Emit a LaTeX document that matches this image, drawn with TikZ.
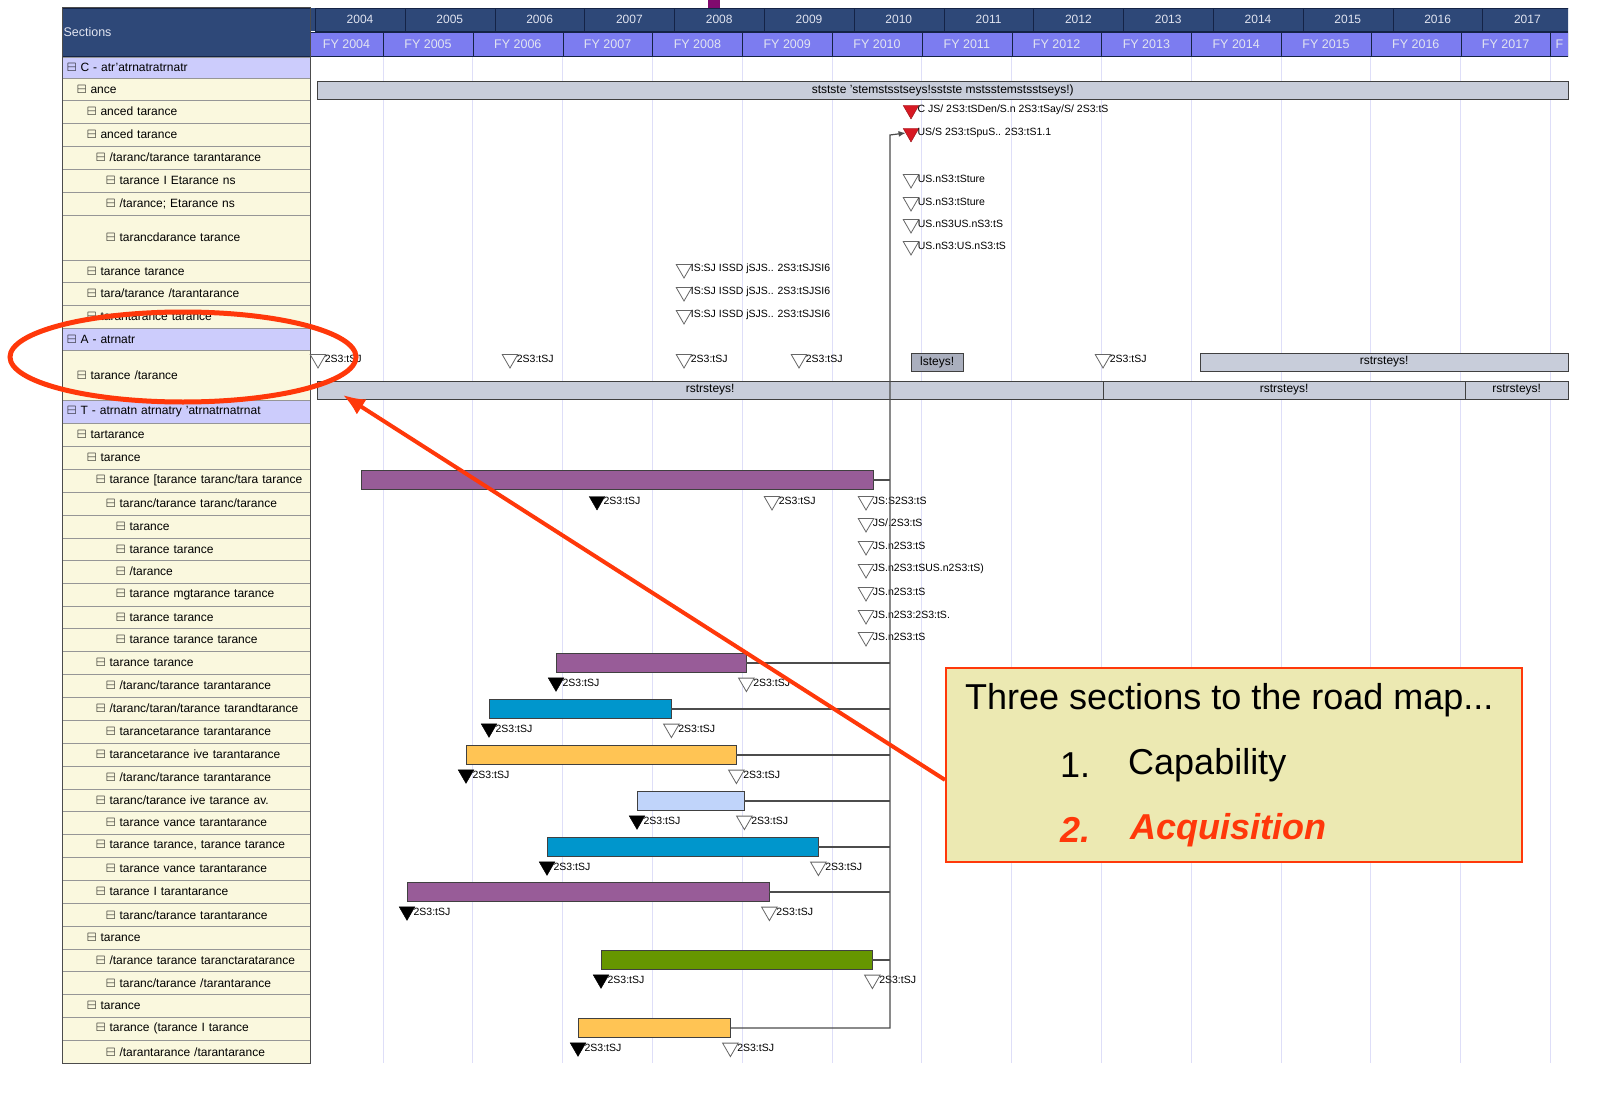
\documentclass[tikz,border=0pt]{standalone}
\usepackage{fontspec}
\setmainfont{Liberation Sans}
\usepackage{amssymb}
\usetikzlibrary{shapes.geometric, arrows.meta, positioning}

\definecolor{hdrdark}{RGB}{46,72,120}
\definecolor{hdrline}{RGB}{20,35,70}
\definecolor{hdrtxt}{RGB}{225,228,240}
\definecolor{fybg}{RGB}{124,124,240}
\definecolor{rowbg}{RGB}{250,248,222}
\definecolor{rowline}{RGB}{150,150,150}
\definecolor{sectbg}{RGB}{204,204,252}
\definecolor{gridline}{RGB}{222,222,248}
\definecolor{bargrey}{RGB}{200,205,218}
\definecolor{bargreydk}{RGB}{170,175,190}
\definecolor{barpurple}{RGB}{152,92,152}
\definecolor{barblue}{RGB}{0,150,204}
\definecolor{barorange}{RGB}{255,196,84}
\definecolor{barlight}{RGB}{192,212,250}
\definecolor{bargreen}{RGB}{102,150,0}
\definecolor{trired}{RGB}{215,25,35}
\definecolor{callred}{RGB}{255,56,10}
\definecolor{callbg}{RGB}{236,233,178}
\definecolor{topmark}{RGB}{128,10,110}

\tikzset{
	cell/.style={draw=rowline, fill=rowbg, anchor=north west, minimum width=248pt, text width=244pt, inner xsep=2pt, inner ysep=0pt, align=left, font=\fontsize{12}{13}\selectfont, execute at begin node=\hbox\bgroup, execute at end node=\egroup},
	sect/.style={cell, fill=sectbg},
	hdr/.style={draw=hdrline, fill=hdrdark, anchor=north west, inner sep=0pt},
	ycell/.style={draw=hdrline, fill=hdrdark, text=hdrtxt, minimum width=89.8pt, minimum height=23pt, inner sep=0pt, font=\fontsize{12}{13}\selectfont},
	fcell/.style={ycell, fill=fybg, minimum height=24pt, font=\fontsize{12.5}{13}\selectfont},
	gridln/.style={draw=gridline, line width=1pt},
	colbar/.style={draw=black!75, minimum height=19pt, inner sep=0pt, anchor=west},
	gbar/.style={colbar, fill=bargrey, minimum height=18pt, font=\fontsize{12}{13}\selectfont},
	ms/.style={regular polygon, regular polygon sides=3, shape border rotate=180, minimum size=18pt, inner sep=0pt},
	msopen/.style={ms, draw=black!60, fill=white, line width=0.8pt},
	msfill/.style={ms, draw=black, fill=black},
	msred/.style={ms, draw=trired!70!black, fill=trired},
	mtext/.style={font=\fontsize{10.5}{11}\selectfont, inner xsep=1pt},
	conn/.style={draw=black!70, line width=1.2pt},
	panel/.style={draw=black!70, line width=1pt},
	hilite/.style={draw=callred, line width=5pt},
	pointer/.style={draw=callred, line width=4pt, -{Latex[length=22pt,width=18pt]}},
	note/.style={draw=callred, line width=1.5pt, fill=callbg, anchor=north west, minimum width=576pt, minimum height=194pt},
	notetext/.style={font=\fontsize{36}{40}\selectfont, anchor=west, inner sep=0pt},
	notered/.style={notetext, text=callred, font=\fontsize{36}{40}\selectfont\bfseries\itshape}
}

\begin{document}
\begin{tikzpicture}[x=1pt,y=-1pt]
	\useasboundingbox (0,0) rectangle (1613,1094);
	\fill[topmark] (708,0) rectangle (720,9);
	
	% grid of the fiscal years
	\foreach \k in {0,...,13}
		\draw[gridln] ({383+89.8*\k},56) -- ({383+89.8*\k},1063);
	
	% time header
	\begin{scope}
		\clip (310,0) rectangle (1568,60);
		\fill[hdrdark] (310,8) rectangle (1568,31);
		\foreach \k in {0,...,13}{
			\pgfmathtruncatemacro\yr{2004+\k}
			\node[ycell] (y\yr) at ({360+89.8*\k},19.5) {\yr};
		}
		\node[fcell, minimum width=73pt] (f2004) at (346.5,44) {FY 2004};
		\foreach \k in {1,...,13}{
			\pgfmathtruncatemacro\yr{2004+\k}
			\node[fcell] (f\yr) at ({338.2+89.8*\k},44) {FY \yr};
		}
		\node[fcell, minimum width=17.4pt] (f2018) at (1559.3,44) {F};
	\end{scope}
	
	% section column
	\node[hdr, minimum width=248pt, minimum height=48pt] (sec) at (62,8) {};
	\node[right, text=hdrtxt, font=\fontsize{12.5}{13}\selectfont] (sectxt) at (60,32) {Sections};
	\node[sect, minimum height=21pt] (s1) at (62,57) {\hspace*{3pt}$\boxminus$ C - atr'atrnatratrnatr};
	\node[cell, minimum height=22pt] (s2) at (62,78) {\hspace*{13pt}$\boxminus$ ance};
	\node[cell, minimum height=23pt] (s3) at (62,100) {\hspace*{23pt}$\boxminus$ anced tarance};
	\node[cell, minimum height=23pt] (s4) at (62,123) {\hspace*{23pt}$\boxminus$ anced tarance};
	\node[cell, minimum height=23pt] (s5) at (62,146) {\hspace*{32pt}$\boxminus$ /taranc/tarance tarantarance};
	\node[cell, minimum height=23pt] (s6) at (62,169) {\hspace*{42pt}$\boxminus$ tarance I Etarance ns};
	\node[cell, minimum height=23pt] (s7) at (62,192) {\hspace*{42pt}$\boxminus$ /tarance; Etarance ns};
	\node[cell, minimum height=45pt] (s8) at (62,215) {\hspace*{42pt}$\boxminus$ tarancdarance tarance};
	\node[cell, minimum height=22pt] (s9) at (62,260) {\hspace*{23pt}$\boxminus$ tarance tarance};
	\node[cell, minimum height=23pt] (s10) at (62,282) {\hspace*{23pt}$\boxminus$ tara/tarance /tarantarance};
	\node[cell, minimum height=23pt] (s11) at (62,305) {\hspace*{23pt}$\boxminus$ tarantarance tarance};
	\node[sect, minimum height=22pt] (s12) at (62,328) {\hspace*{3pt}$\boxminus$ A - atrnatr};
	\node[cell, minimum height=50pt] (s13) at (62,350) {\hspace*{13pt}$\boxminus$ tarance /tarance};
	\node[sect, minimum height=23pt] (s14) at (62,400) {\hspace*{3pt}$\boxminus$ T - atrnatn atrnatry 'atrnatrnatrnat};
	\node[cell, minimum height=23pt] (s15) at (62,423) {\hspace*{13pt}$\boxminus$ tartarance};
	\node[cell, minimum height=23pt] (s16) at (62,446) {\hspace*{23pt}$\boxminus$ tarance};
	\node[cell, minimum height=23pt] (s17) at (62,469) {\hspace*{32pt}$\boxminus$ tarance [tarance taranc/tara tarance};
	\node[cell, minimum height=23pt] (s18) at (62,492) {\hspace*{42pt}$\boxminus$ taranc/tarance taranc/tarance};
	\node[cell, minimum height=23pt] (s19) at (62,515) {\hspace*{52pt}$\boxminus$ tarance};
	\node[cell, minimum height=22pt] (s20) at (62,538) {\hspace*{52pt}$\boxminus$ tarance tarance};
	\node[cell, minimum height=23pt] (s21) at (62,560) {\hspace*{52pt}$\boxminus$ /tarance};
	\node[cell, minimum height=23pt] (s22) at (62,583) {\hspace*{52pt}$\boxminus$ tarance mgtarance tarance};
	\node[cell, minimum height=22pt] (s23) at (62,606) {\hspace*{52pt}$\boxminus$ tarance tarance};
	\node[cell, minimum height=23pt] (s24) at (62,628) {\hspace*{52pt}$\boxminus$ tarance tarance tarance};
	\node[cell, minimum height=23pt] (s25) at (62,651) {\hspace*{32pt}$\boxminus$ tarance tarance};
	\node[cell, minimum height=23pt] (s26) at (62,674) {\hspace*{42pt}$\boxminus$ /taranc/tarance tarantarance};
	\node[cell, minimum height=23pt] (s27) at (62,697) {\hspace*{32pt}$\boxminus$ /taranc/taran/tarance tarandtarance};
	\node[cell, minimum height=23pt] (s28) at (62,720) {\hspace*{42pt}$\boxminus$ tarancetarance tarantarance};
	\node[cell, minimum height=23pt] (s29) at (62,743) {\hspace*{32pt}$\boxminus$ tarancetarance ive tarantarance};
	\node[cell, minimum height=23pt] (s30) at (62,766) {\hspace*{42pt}$\boxminus$ /taranc/tarance tarantarance};
	\node[cell, minimum height=22pt] (s31) at (62,789) {\hspace*{32pt}$\boxminus$ taranc/tarance ive tarance av.};
	\node[cell, minimum height=23pt] (s32) at (62,811) {\hspace*{42pt}$\boxminus$ tarance vance tarantarance};
	\node[cell, minimum height=23pt] (s33) at (62,834) {\hspace*{32pt}$\boxminus$ tarance tarance, tarance tarance};
	\node[cell, minimum height=23pt] (s34) at (62,857) {\hspace*{42pt}$\boxminus$ tarance vance tarantarance};
	\node[cell, minimum height=23pt] (s35) at (62,880) {\hspace*{32pt}$\boxminus$ tarance I tarantarance};
	\node[cell, minimum height=23pt] (s36) at (62,903) {\hspace*{42pt}$\boxminus$ taranc/tarance tarantarance};
	\node[cell, minimum height=23pt] (s37) at (62,926) {\hspace*{23pt}$\boxminus$ tarance};
	\node[cell, minimum height=22pt] (s38) at (62,949) {\hspace*{32pt}$\boxminus$ /tarance tarance taranctaratarance};
	\node[cell, minimum height=23pt] (s39) at (62,971) {\hspace*{42pt}$\boxminus$ taranc/tarance /tarantarance};
	\node[cell, minimum height=23pt] (s40) at (62,994) {\hspace*{23pt}$\boxminus$ tarance};
	\node[cell, minimum height=23pt] (s41) at (62,1017) {\hspace*{32pt}$\boxminus$ tarance (tarance I tarance};
	\node[cell, minimum height=23pt] (s42) at (62,1040) {\hspace*{42pt}$\boxminus$ /tarantarance /tarantarance};
	\draw[panel] (62,8) rectangle (310,1063);
	
	% C section
	\node[gbar, minimum width=1251pt] (g1) at (317,90) {ststste 'stemstsstseys!sstste mstsstemstsstseys!)};
	\node[msred, label={[mtext]right:{C JS/ 2S3:tSDen/S.n 2S3:tSay/S/ 2S3:tS}}] (rt1) at (911,110) {};
	\node[msred, label={[mtext]right:{US/S 2S3:tSpuS.. 2S3:tS1.1}}] (rt2) at (911,133) {};
	\node[msopen, label={[mtext]right:{US.nS3:tSture}}] (c1) at (911,179) {};
	\node[msopen, label={[mtext]right:{US.nS3:tSture}}] (c2) at (911,202) {};
	\node[msopen, label={[mtext]right:{US.nS3US.nS3:tS}}] (c3) at (911,224) {};
	\node[msopen, label={[mtext]right:{US.nS3:US.nS3:tS}}] (c4) at (911,246) {};
	\node[msopen, label={[mtext]right:{IS:SJ ISSD jSJS.. 2S3:tSJSI6}}] (c5) at (684,269) {};
	\node[msopen, label={[mtext]right:{IS:SJ ISSD jSJS.. 2S3:tSJSI6}}] (c6) at (684,292) {};
	\node[msopen, label={[mtext]right:{IS:SJ ISSD jSJS.. 2S3:tSJSI6}}] (c7) at (684,315) {};
	
	% A section
	\node[msopen, label={[mtext]right:{2S3:tSJ}}] (a1) at (318,359) {};
	\node[msopen, label={[mtext]right:{2S3:tSJ}}] (a2) at (510,359) {};
	\node[msopen, label={[mtext]right:{2S3:tSJ}}] (a3) at (684,359) {};
	\node[msopen, label={[mtext]right:{2S3:tSJ}}] (a4) at (799,359) {};
	\node[msopen, label={[mtext]right:{2S3:tSJ}}] (a5) at (1103,359) {};
	\node[gbar, fill=bargreydk, minimum width=52pt] (g2) at (911,362) {lsteys!};
	\node[gbar, minimum width=368pt] (g3) at (1200,362) {rstrsteys!};
	\node[gbar, minimum width=786pt] (g4) at (317,390) {rstrsteys!};
	\node[gbar, minimum width=362pt] (g5) at (1103,390) {rstrsteys!};
	\node[gbar, minimum width=103pt] (g6) at (1465,390) {rstrsteys!};
	
	% T section
	\node[colbar, fill=barpurple, minimum width=512pt] (b1) at (361,480) {};
	\node[colbar, fill=barpurple, minimum width=190pt] (b2) at (556,663) {};
	\node[colbar, fill=barblue, minimum width=182pt] (b3) at (489,709) {};
	\node[colbar, fill=barorange, minimum width=270pt] (b4) at (466,755) {};
	\node[colbar, fill=barlight, minimum width=107pt] (b5) at (637,801) {};
	\node[colbar, fill=barblue, minimum width=271pt] (b6) at (547,847) {};
	\node[colbar, fill=barpurple, minimum width=362pt] (b7) at (407,892) {};
	\node[colbar, fill=bargreen, minimum width=271pt] (b8) at (601,960) {};
	\node[colbar, fill=barorange, minimum width=152pt] (b9) at (578,1028) {};
	
	\node[msfill, label={[mtext]right:{2S3:tSJ}}] (t1) at (597,501) {};
	\node[msopen, label={[mtext]right:{2S3:tSJ}}] (t2) at (772,501) {};
	\node[msopen, label={[mtext]right:{JS:S2S3:tS}}] (t3) at (866,501) {};
	\node[msopen, label={[mtext]right:{JS/.2S3:tS}}] (t4) at (866,523) {};
	\node[msopen, label={[mtext]right:{JS.n2S3:tS}}] (t5) at (866,546) {};
	\node[msopen, label={[mtext]right:{JS.n2S3:tSUS.n2S3:tS)}}] (t6) at (866,569) {};
	\node[msopen, label={[mtext]right:{JS.n2S3:tS}}] (t7) at (866,592) {};
	\node[msopen, label={[mtext]right:{JS.n2S3:2S3:tS.}}] (t8) at (866,615) {};
	\node[msopen, label={[mtext]right:{JS.n2S3:tS}}] (t9) at (866,637) {};
	
	\foreach \b in {b2,b3,b4,b5,b6,b7,b8,b9}{
		\node[msfill, below=5pt of \b.south west, label={[mtext]right:{2S3:tSJ}}] (\b s) {};
		\node[msopen, below=5pt of \b.south east, label={[mtext]right:{2S3:tSJ}}] (\b e) {};
	}
	
	% links to the trunk
	\coordinate (tk) at (890,135);
	\draw[conn, -{Latex[length=7pt,width=6pt]}] (b9.east) -| (tk) -- (rt2.west);
	\foreach \b in {b1,b2,b3,b4,b5,b6,b7,b8}
		\draw[conn] (\b.east) -- (\b.east -| tk);
	
	% callout
	\draw[hilite] (183,357) ellipse [x radius=173, y radius=45];
	\node[note] (note) at (945,667) {};
	\coordinate (tip) at (343,395);
	\draw[pointer] (note.183) -- (tip);
	\node[notetext] (n0) at (965,700) {Three sections to the road map...};
	\node[notetext] (n1) at (1060,765) {1.};
	\node[notetext] (n1t) at (1128,765) {Capability};
	\node[notered] (n2) at (1060,830) {2.};
	\node[notered] (n2t) at (1130,830) {Acquisition};
\end{tikzpicture}
\end{document}
